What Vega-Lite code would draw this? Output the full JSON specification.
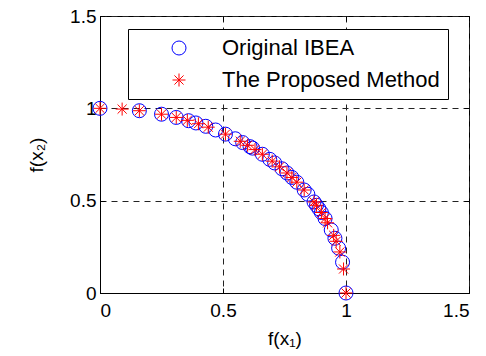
{
  "$schema": "https://vega.github.io/schema/vega-lite/v6.json",
  "autosize": "none",
  "width": 369,
  "height": 277,
  "padding": {"left": 100, "top": 16, "right": 17, "bottom": 63},
  "background": "white",
  "config": {
    "view": {"stroke": "black", "strokeWidth": 1},
    "font": "Liberation Sans"
  },
  "data": {
    "values": [
      {"method": "Original IBEA", "f1": 0.0, "f2": 1.0},
      {"method": "Original IBEA", "f1": 0.16, "f2": 0.9871},
      {"method": "Original IBEA", "f1": 0.25, "f2": 0.9682},
      {"method": "Original IBEA", "f1": 0.31, "f2": 0.9507},
      {"method": "Original IBEA", "f1": 0.36, "f2": 0.933},
      {"method": "Original IBEA", "f1": 0.39, "f2": 0.9208},
      {"method": "Original IBEA", "f1": 0.43, "f2": 0.9028},
      {"method": "Original IBEA", "f1": 0.47, "f2": 0.8827},
      {"method": "Original IBEA", "f1": 0.51, "f2": 0.8602},
      {"method": "Original IBEA", "f1": 0.55, "f2": 0.8352},
      {"method": "Original IBEA", "f1": 0.58, "f2": 0.8146},
      {"method": "Original IBEA", "f1": 0.61, "f2": 0.7924},
      {"method": "Original IBEA", "f1": 0.62, "f2": 0.7846},
      {"method": "Original IBEA", "f1": 0.66, "f2": 0.7513},
      {"method": "Original IBEA", "f1": 0.69, "f2": 0.7238},
      {"method": "Original IBEA", "f1": 0.71, "f2": 0.7042},
      {"method": "Original IBEA", "f1": 0.74, "f2": 0.6726},
      {"method": "Original IBEA", "f1": 0.76, "f2": 0.6499},
      {"method": "Original IBEA", "f1": 0.78, "f2": 0.6258},
      {"method": "Original IBEA", "f1": 0.8, "f2": 0.6},
      {"method": "Original IBEA", "f1": 0.83, "f2": 0.5578},
      {"method": "Original IBEA", "f1": 0.845, "f2": 0.5348},
      {"method": "Original IBEA", "f1": 0.87, "f2": 0.4931},
      {"method": "Original IBEA", "f1": 0.88, "f2": 0.475},
      {"method": "Original IBEA", "f1": 0.89, "f2": 0.456},
      {"method": "Original IBEA", "f1": 0.9, "f2": 0.4359},
      {"method": "Original IBEA", "f1": 0.915, "f2": 0.4035},
      {"method": "Original IBEA", "f1": 0.94, "f2": 0.3412},
      {"method": "Original IBEA", "f1": 0.955, "f2": 0.2966},
      {"method": "Original IBEA", "f1": 0.97, "f2": 0.2431},
      {"method": "Original IBEA", "f1": 0.986, "f2": 0.1667},
      {"method": "Original IBEA", "f1": 1.0, "f2": 0.0},
      {"method": "The Proposed Method", "f1": 0.0, "f2": 1.0},
      {"method": "The Proposed Method", "f1": 0.09, "f2": 0.9959},
      {"method": "The Proposed Method", "f1": 0.16, "f2": 0.9871},
      {"method": "The Proposed Method", "f1": 0.25, "f2": 0.9682},
      {"method": "The Proposed Method", "f1": 0.31, "f2": 0.9507},
      {"method": "The Proposed Method", "f1": 0.355, "f2": 0.9349},
      {"method": "The Proposed Method", "f1": 0.4, "f2": 0.9165},
      {"method": "The Proposed Method", "f1": 0.44, "f2": 0.898},
      {"method": "The Proposed Method", "f1": 0.51, "f2": 0.8602},
      {"method": "The Proposed Method", "f1": 0.57, "f2": 0.8216},
      {"method": "The Proposed Method", "f1": 0.6, "f2": 0.8},
      {"method": "The Proposed Method", "f1": 0.63, "f2": 0.7766},
      {"method": "The Proposed Method", "f1": 0.66, "f2": 0.7513},
      {"method": "The Proposed Method", "f1": 0.7, "f2": 0.7141},
      {"method": "The Proposed Method", "f1": 0.73, "f2": 0.6834},
      {"method": "The Proposed Method", "f1": 0.76, "f2": 0.6499},
      {"method": "The Proposed Method", "f1": 0.78, "f2": 0.6258},
      {"method": "The Proposed Method", "f1": 0.8, "f2": 0.6},
      {"method": "The Proposed Method", "f1": 0.83, "f2": 0.5578},
      {"method": "The Proposed Method", "f1": 0.87, "f2": 0.4931},
      {"method": "The Proposed Method", "f1": 0.88, "f2": 0.475},
      {"method": "The Proposed Method", "f1": 0.9, "f2": 0.4359},
      {"method": "The Proposed Method", "f1": 0.915, "f2": 0.4035},
      {"method": "The Proposed Method", "f1": 0.925, "f2": 0.38},
      {"method": "The Proposed Method", "f1": 0.95, "f2": 0.3122},
      {"method": "The Proposed Method", "f1": 0.96, "f2": 0.28},
      {"method": "The Proposed Method", "f1": 0.975, "f2": 0.2222},
      {"method": "The Proposed Method", "f1": 0.99, "f2": 0.13},
      {"method": "The Proposed Method", "f1": 1.0, "f2": 0.0}
    ]
  },
  "layer": [
    {
      "mark": {"type": "point", "filled": false, "strokeWidth": 1, "size": 196, "opacity": 1},
      "encoding": {
        "x": {
          "field": "f1", "type": "quantitative",
          "scale": {"domain": [0, 1.5], "nice": false, "zero": false},
          "axis": {
            "title": "f(x₁)", "values": [0, 0.5, 1, 1.5], "format": "~g",
            "grid": true, "gridColor": "#222", "gridDash": [6, 5], "gridOpacity": 1, "gridWidth": 1,
            "domainColor": "black", "tickColor": "black", "tickSize": -5,
            "labelFontSize": 19, "labelColor": "black", "labelPadding": 13, "labelFont": "Liberation Sans",
            "titleFontSize": 19, "titleFontWeight": "normal", "titleColor": "black", "titlePadding": 9, "titleFont": "Liberation Sans"
          }
        },
        "y": {
          "field": "f2", "type": "quantitative",
          "scale": {"domain": [0, 1.5], "nice": false, "zero": false},
          "axis": {
            "title": "f(x₂)", "values": [0, 0.5, 1, 1.5], "format": "~g",
            "grid": true, "gridColor": "#222", "gridDash": [6, 5], "gridOpacity": 1, "gridWidth": 1,
            "domainColor": "black", "tickColor": "black", "tickSize": -5,
            "labelFontSize": 19, "labelColor": "black", "labelPadding": 9, "labelFont": "Liberation Sans",
            "titleFontSize": 19, "titleFontWeight": "normal", "titleColor": "black", "titlePadding": 23, "titleFont": "Liberation Sans"
          }
        },
        "color": {
          "field": "method", "type": "nominal",
          "scale": {"domain": ["Original IBEA", "The Proposed Method"], "range": ["#0000ff", "#ff0000"]},
          "legend": {
            "title": null, "orient": "none", "legendX": 28, "legendY": 13,
            "fillColor": "white", "strokeColor": "black", "padding": 8,
            "symbolOffset": 32, "labelOffset": 32, "labelFontSize": 22, "labelColor": "black",
            "labelFont": "Liberation Sans", "rowPadding": 10, "symbolSize": 196, "symbolStrokeWidth": 1,
            "labelLimit": 400, "labelExpr": "datum.label + '\u00a0\u00a0'"
          }
        },
        "shape": {
          "field": "method", "type": "nominal",
          "scale": {"domain": ["Original IBEA", "The Proposed Method"], "range": ["circle", "M-1,0L1,0M0,-1L0,1M-0.7,-0.7L0.7,0.7M-0.7,0.7L0.7,-0.7"]}
        },
        "size": {
          "field": "method", "type": "nominal",
          "scale": {"domain": ["Original IBEA", "The Proposed Method"], "range": [196, 169]},
          "legend": null
        }
      }
    },
    {
      "mark": {"type": "point", "opacity": 0},
      "encoding": {
        "x": {
          "field": "f1", "type": "quantitative",
          "scale": {"domain": [0, 1.5], "nice": false, "zero": false},
          "axis": {"orient": "top", "title": null, "labels": false, "grid": false, "domain": false, "values": [0, 0.5, 1, 1.5], "tickColor": "black", "tickSize": -5}
        },
        "y": {
          "field": "f2", "type": "quantitative",
          "scale": {"domain": [0, 1.5], "nice": false, "zero": false},
          "axis": {"orient": "right", "title": null, "labels": false, "grid": false, "domain": false, "values": [0, 0.5, 1, 1.5], "tickColor": "black", "tickSize": -5}
        }
      }
    }
  ],
  "resolve": {"axis": {"x": "independent", "y": "independent"}}
}
